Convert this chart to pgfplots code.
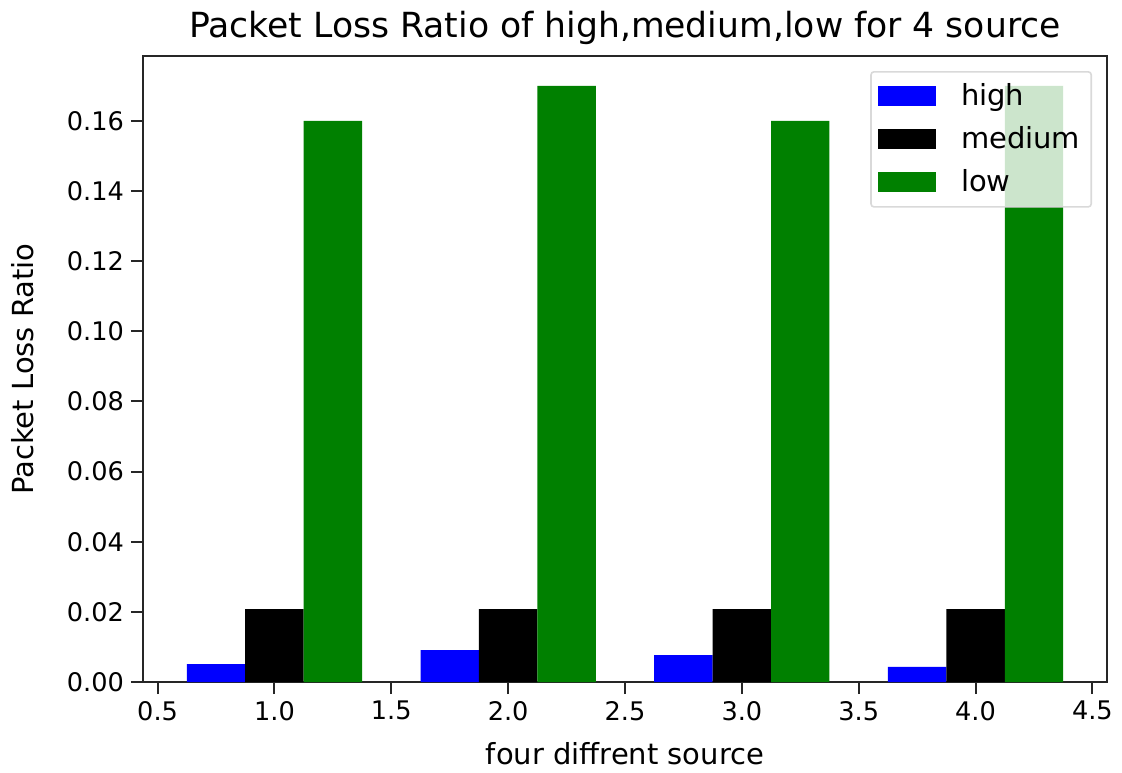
\documentclass[border=0pt]{standalone}
\usepackage{pgfplots}
\pgfplotsset{compat=1.18}
\usepackage{fontspec}
\setmainfont{DejaVu Sans}
\definecolor{mplgreen}{RGB}{0,128,0}
\definecolor{spine}{RGB}{38,38,38}
\begin{document}
\begin{tikzpicture}
\useasboundingbox (-71.5pt,-45pt) rectangle (489.5pt,341pt);
\begin{axis}[
  at={(0pt,0pt)}, anchor=south west,
  scale only axis,
  width=482pt, height=313pt,
  xmin=0.4375, xmax=4.5625,
  ymin=0, ymax=0.1785,
  xtick={0.5,1,1.5,2,2.5,3,3.5,4,4.5},
  ytick={0,0.02,0.04,0.06,0.08,0.10,0.12,0.14,0.16},
  xticklabel style={/pgf/number format/.cd,fixed,fixed zerofill,precision=1},
  yticklabel style={/pgf/number format/.cd,fixed,fixed zerofill,precision=2},
  /pgf/number format/assume math mode=true,
  scaled y ticks=false,
  tick label style={font=\fontsize{12.8}{14}\selectfont, text=black},
  label style={font=\fontsize{14.5}{17}\selectfont},
  ylabel shift=9.5pt,
  xlabel shift=4pt,
  title style={font=\fontsize{17.3}{20}\selectfont, yshift=-4pt},
  title={Packet Loss Ratio of high,medium,low for 4 source},
  xlabel={four diffrent source},
  ylabel={Packet Loss Ratio},
  tick align=outside,
  tick pos=left,
  major tick length=6pt,
  axis line style={spine, line width=1pt},
  every tick/.style={spine, line width=1pt},
  ybar,
  bar width=0.25,
  legend cell align=left,
  legend style={at={(1,1)}, anchor=north east, xshift=-7.5pt, yshift=-7.5pt,
    fill=white, fill opacity=0.8, text opacity=1, draw=black!15, line width=0.8pt,
    rounded corners=1.5pt, font=\fontsize{14.5}{17}\selectfont,
    row sep=5pt, inner xsep=3.5pt, inner ysep=4pt,
    /tikz/every odd column/.append style={column sep=10.5pt}},
  legend image code/.code={\fill[#1, sharp corners, fill opacity=1] (0pt,-5pt) rectangle (29pt,5pt);},
]
\addplot[fill=blue, draw=none, bar shift=0pt] coordinates {(0.75,0.0051) (1.75,0.0091) (2.75,0.0077) (3.75,0.0043)};
\addplot[fill=black, draw=none, bar shift=0pt] coordinates {(1,0.0208) (2,0.0208) (3,0.0208) (4,0.0208)};
\addplot[fill=mplgreen, draw=none, bar shift=0pt] coordinates {(1.25,0.16) (2.25,0.17) (3.25,0.16) (4.25,0.17)};
\legend{high,medium,low}
\end{axis}
\end{tikzpicture}
\end{document}
